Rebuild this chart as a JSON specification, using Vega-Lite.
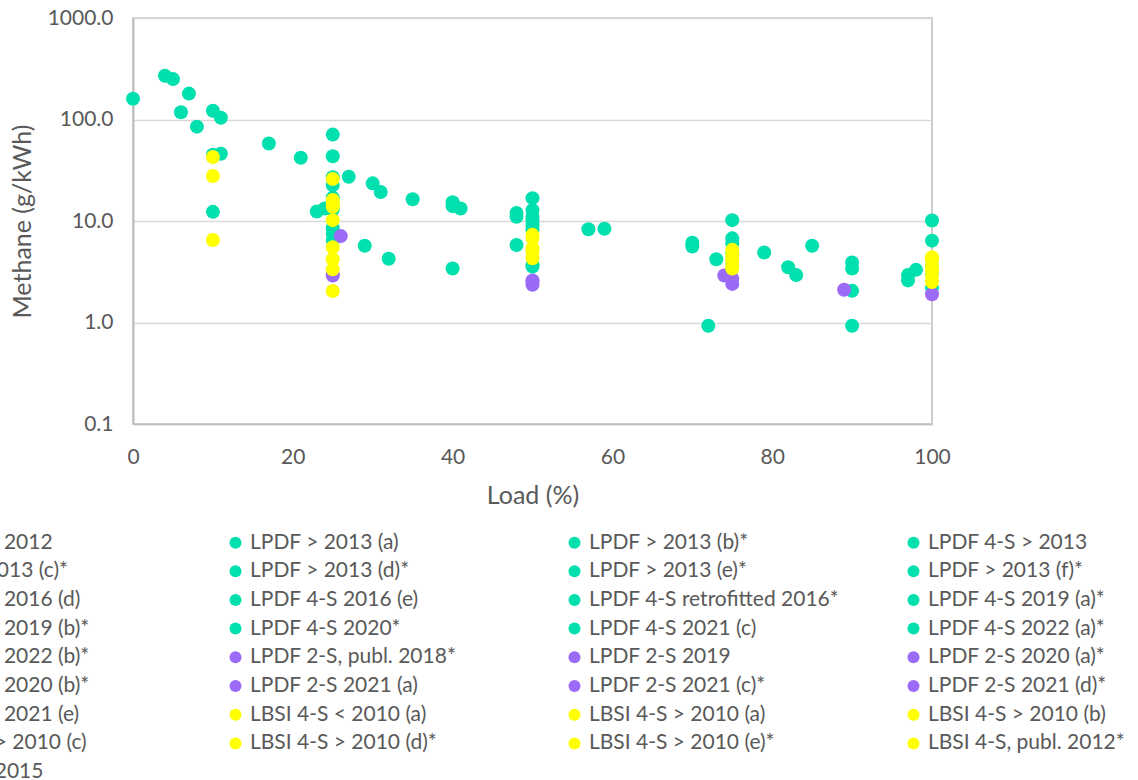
{
 "$schema": "https://vega.github.io/schema/vega-lite/v6.json",
 "width": 799, "height": 406,
 "autosize": {"type": "none"},
 "padding": {"left": 133, "top": 18, "right": 206, "bottom": 356},
 "background": "white",
 "config": {"font": "Lato", "view": {"stroke": "#bfbfbf", "strokeWidth": 1.5}},
 "data": {"values": [
  {"series": "LPDF 4-S 2012", "load": 4, "methane": 270},
  {"series": "LPDF 4-S 2012", "load": 10, "methane": 45},
  {"series": "LPDF 4-S 2012", "load": 25, "methane": 22.6},
  {"series": "LPDF 4-S 2012", "load": 50, "methane": 11},
  {"series": "LPDF 4-S 2012", "load": 75, "methane": 6.0},
  {"series": "LPDF 4-S 2012", "load": 100, "methane": 3.0},
  {"series": "LPDF > 2013 (a)", "load": 5, "methane": 250},
  {"series": "LPDF > 2013 (a)", "load": 11, "methane": 104},
  {"series": "LPDF > 2013 (a)", "load": 25, "methane": 43.4},
  {"series": "LPDF > 2013 (a)", "load": 50, "methane": 12.8},
  {"series": "LPDF > 2013 (a)", "load": 75, "methane": 6.75},
  {"series": "LPDF > 2013 (a)", "load": 100, "methane": 6.4},
  {"series": "LPDF > 2013 (b)*", "load": 0, "methane": 160},
  {"series": "LPDF > 2013 (b)*", "load": 6, "methane": 118},
  {"series": "LPDF > 2013 (b)*", "load": 17, "methane": 58},
  {"series": "LPDF > 2013 (b)*", "load": 25, "methane": 27},
  {"series": "LPDF > 2013 (b)*", "load": 50, "methane": 16.8},
  {"series": "LPDF > 2013 (b)*", "load": 100, "methane": 10.1},
  {"series": "LPDF 4-S > 2013", "load": 7, "methane": 180},
  {"series": "LPDF 4-S > 2013", "load": 10, "methane": 122},
  {"series": "LPDF 4-S > 2013", "load": 21, "methane": 42},
  {"series": "LPDF 4-S > 2013", "load": 31, "methane": 19.3},
  {"series": "LPDF 4-S > 2013", "load": 40, "methane": 15.3},
  {"series": "LPDF 4-S > 2013", "load": 59, "methane": 8.4},
  {"series": "LPDF 4-S > 2013", "load": 85, "methane": 5.7},
  {"series": "LPDF > 2013 (c)*", "load": 8, "methane": 85},
  {"series": "LPDF > 2013 (c)*", "load": 11, "methane": 46},
  {"series": "LPDF > 2013 (c)*", "load": 27, "methane": 27.3},
  {"series": "LPDF > 2013 (c)*", "load": 30, "methane": 23.5},
  {"series": "LPDF > 2013 (c)*", "load": 41, "methane": 13.3},
  {"series": "LPDF > 2013 (c)*", "load": 57, "methane": 8.3},
  {"series": "LPDF > 2013 (d)*", "load": 10, "methane": 12.3},
  {"series": "LPDF > 2013 (d)*", "load": 25, "methane": 8.5},
  {"series": "LPDF > 2013 (d)*", "load": 50, "methane": 8.1},
  {"series": "LPDF > 2013 (d)*", "load": 75, "methane": 10.2},
  {"series": "LPDF > 2013 (e)*", "load": 25, "methane": 71},
  {"series": "LPDF > 2013 (e)*", "load": 50, "methane": 9.1},
  {"series": "LPDF > 2013 (f)*", "load": 25, "methane": 17},
  {"series": "LPDF > 2013 (f)*", "load": 50, "methane": 10.2},
  {"series": "LPDF > 2013 (f)*", "load": 75, "methane": 4.7},
  {"series": "LPDF > 2013 (f)*", "load": 100, "methane": 2.2},
  {"series": "LPDF 4-S 2016 (d)", "load": 23, "methane": 12.4},
  {"series": "LPDF 4-S 2016 (d)", "load": 48, "methane": 12},
  {"series": "LPDF 4-S 2016 (d)", "load": 70, "methane": 6.1},
  {"series": "LPDF 4-S 2016 (d)", "load": 97, "methane": 2.94},
  {"series": "LPDF 4-S 2016 (e)", "load": 24, "methane": 13.3},
  {"series": "LPDF 4-S 2016 (e)", "load": 48, "methane": 11},
  {"series": "LPDF 4-S 2016 (e)", "load": 70, "methane": 5.6},
  {"series": "LPDF 4-S 2016 (e)", "load": 98, "methane": 3.3},
  {"series": "LPDF 4-S retrofitted 2016*", "load": 29, "methane": 5.7},
  {"series": "LPDF 4-S retrofitted 2016*", "load": 48, "methane": 5.8},
  {"series": "LPDF 4-S retrofitted 2016*", "load": 73, "methane": 4.2},
  {"series": "LPDF 4-S retrofitted 2016*", "load": 97, "methane": 2.6},
  {"series": "LPDF 4-S 2019 (a)*", "load": 32, "methane": 4.25},
  {"series": "LPDF 4-S 2019 (a)*", "load": 40, "methane": 3.4},
  {"series": "LPDF 4-S 2019 (a)*", "load": 72, "methane": 0.93},
  {"series": "LPDF 4-S 2019 (a)*", "load": 90, "methane": 0.93},
  {"series": "LPDF 4-S 2019 (b)*", "load": 35, "methane": 16.4},
  {"series": "LPDF 4-S 2019 (b)*", "load": 40, "methane": 14},
  {"series": "LPDF 4-S 2019 (b)*", "load": 79, "methane": 4.9},
  {"series": "LPDF 4-S 2020*", "load": 25, "methane": 14.5},
  {"series": "LPDF 4-S 2020*", "load": 50, "methane": 3.7},
  {"series": "LPDF 4-S 2020*", "load": 82, "methane": 3.5},
  {"series": "LPDF 4-S 2020*", "load": 90, "methane": 3.9},
  {"series": "LPDF 4-S 2021 (c)", "load": 25, "methane": 13},
  {"series": "LPDF 4-S 2021 (c)", "load": 50, "methane": 3.55},
  {"series": "LPDF 4-S 2021 (c)", "load": 83, "methane": 2.94},
  {"series": "LPDF 4-S 2021 (c)", "load": 90, "methane": 3.4},
  {"series": "LPDF 4-S 2022 (a)*", "load": 25, "methane": 7.5},
  {"series": "LPDF 4-S 2022 (a)*", "load": 75, "methane": 3.6},
  {"series": "LPDF 4-S 2022 (a)*", "load": 90, "methane": 2.05},
  {"series": "LPDF 4-S 2022 (b)*", "load": 25, "methane": 6.5},
  {"series": "LPDF 4-S 2022 (b)*", "load": 100, "methane": 3.6},
  {"series": "LPDF 2-S, publ. 2018*", "load": 25, "methane": 2.9},
  {"series": "LPDF 2-S, publ. 2018*", "load": 50, "methane": 2.35},
  {"series": "LPDF 2-S, publ. 2018*", "load": 75, "methane": 2.4},
  {"series": "LPDF 2-S, publ. 2018*", "load": 100, "methane": 1.9},
  {"series": "LPDF 2-S 2019", "load": 26, "methane": 7.1},
  {"series": "LPDF 2-S 2020 (a)*", "load": 50, "methane": 2.6},
  {"series": "LPDF 2-S 2020 (b)*", "load": 74, "methane": 2.9},
  {"series": "LPDF 2-S 2021 (a)", "load": 50, "methane": 2.5},
  {"series": "LPDF 2-S 2021 (c)*", "load": 75, "methane": 2.7},
  {"series": "LPDF 2-S 2021 (d)*", "load": 89, "methane": 2.1},
  {"series": "LPDF 2-S 2021 (e)", "load": 25, "methane": 3.0},
  {"series": "LBSI 4-S < 2010 (a)", "load": 10, "methane": 42.7},
  {"series": "LBSI 4-S < 2010 (a)", "load": 25, "methane": 25.9},
  {"series": "LBSI 4-S < 2010 (a)", "load": 50, "methane": 7.3},
  {"series": "LBSI 4-S < 2010 (a)", "load": 75, "methane": 5.2},
  {"series": "LBSI 4-S < 2010 (a)", "load": 100, "methane": 4.4},
  {"series": "LBSI 4-S > 2010 (a)", "load": 10, "methane": 27.8},
  {"series": "LBSI 4-S > 2010 (a)", "load": 25, "methane": 16.1},
  {"series": "LBSI 4-S > 2010 (a)", "load": 50, "methane": 5.4},
  {"series": "LBSI 4-S > 2010 (a)", "load": 75, "methane": 4.1},
  {"series": "LBSI 4-S > 2010 (a)", "load": 100, "methane": 3.55},
  {"series": "LBSI 4-S > 2010 (b)", "load": 10, "methane": 6.5},
  {"series": "LBSI 4-S > 2010 (b)", "load": 25, "methane": 13.8},
  {"series": "LBSI 4-S > 2010 (b)", "load": 50, "methane": 4.3},
  {"series": "LBSI 4-S > 2010 (b)", "load": 75, "methane": 3.4},
  {"series": "LBSI 4-S > 2010 (b)", "load": 100, "methane": 2.5},
  {"series": "LBSI 4-S > 2010 (c)", "load": 25, "methane": 10.2},
  {"series": "LBSI 4-S > 2010 (c)", "load": 50, "methane": 5.0},
  {"series": "LBSI 4-S > 2010 (c)", "load": 75, "methane": 4.6},
  {"series": "LBSI 4-S > 2010 (c)", "load": 100, "methane": 4.1},
  {"series": "LBSI 4-S > 2010 (d)*", "load": 25, "methane": 5.5},
  {"series": "LBSI 4-S > 2010 (d)*", "load": 50, "methane": 6.8},
  {"series": "LBSI 4-S > 2010 (d)*", "load": 75, "methane": 3.6},
  {"series": "LBSI 4-S > 2010 (d)*", "load": 100, "methane": 3.2},
  {"series": "LBSI 4-S > 2010 (e)*", "load": 25, "methane": 4.2},
  {"series": "LBSI 4-S > 2010 (e)*", "load": 100, "methane": 2.83},
  {"series": "LBSI 4-S, publ. 2012*", "load": 25, "methane": 3.34},
  {"series": "LBSI 4-S 2015", "load": 25, "methane": 2.04},
  {"series": "LBSI 4-S 2015", "load": 25, "methane": 14.8}
 ]},
 "mark": {"type": "point", "filled": true, "size": 196, "opacity": 1, "shape": "circle", "strokeWidth": 0},
 "encoding": {
  "x": {"field": "load", "type": "quantitative",
   "scale": {"domain": [0, 100], "nice": false, "zero": false},
   "axis": {"title": "Load (%)", "values": [0, 20, 40, 60, 80, 100], "grid": false, "ticks": false, "labelFlush": false,
    "labelPadding": 22, "labelFontSize": 21, "labelColor": "#595959", "labelFont": "Lato",
    "titleFontSize": 25, "titleColor": "#595959", "titleFontWeight": "normal", "titleFont": "Lato", "titlePadding": 16,
    "domainColor": "#bfbfbf", "domainWidth": 1.5}},
  "y": {"field": "methane", "type": "quantitative",
   "scale": {"type": "log", "domain": [0.1, 1000], "nice": false},
   "axis": {"title": "Methane (g/kWh)", "values": [0.1, 1, 10, 100, 1000], "format": ".1f", "grid": true, "labelFlush": false,
    "gridColor": "#d9d9d9", "gridWidth": 1.5, "ticks": false,
    "labelPadding": 20, "labelFontSize": 21, "labelColor": "#595959", "labelFont": "Lato",
    "titleFontSize": 25, "titleColor": "#595959", "titleFontWeight": "normal", "titleFont": "Lato", "titlePadding": 12,
    "domainColor": "#bfbfbf", "domainWidth": 2}},
  "color": {"field": "series", "type": "nominal",
   "scale": {
    "domain": ["LPDF 4-S 2012", "LPDF > 2013 (a)", "LPDF > 2013 (b)*", "LPDF 4-S > 2013",
     "LPDF > 2013 (c)*", "LPDF > 2013 (d)*", "LPDF > 2013 (e)*", "LPDF > 2013 (f)*",
     "LPDF 4-S 2016 (d)", "LPDF 4-S 2016 (e)", "LPDF 4-S retrofitted 2016*", "LPDF 4-S 2019 (a)*",
     "LPDF 4-S 2019 (b)*", "LPDF 4-S 2020*", "LPDF 4-S 2021 (c)", "LPDF 4-S 2022 (a)*",
     "LPDF 4-S 2022 (b)*", "LPDF 2-S, publ. 2018*", "LPDF 2-S 2019", "LPDF 2-S 2020 (a)*",
     "LPDF 2-S 2020 (b)*", "LPDF 2-S 2021 (a)", "LPDF 2-S 2021 (c)*", "LPDF 2-S 2021 (d)*",
     "LPDF 2-S 2021 (e)", "LBSI 4-S < 2010 (a)", "LBSI 4-S > 2010 (a)", "LBSI 4-S > 2010 (b)",
     "LBSI 4-S > 2010 (c)", "LBSI 4-S > 2010 (d)*", "LBSI 4-S > 2010 (e)*", "LBSI 4-S, publ. 2012*",
     "LBSI 4-S 2015"],
    "range": ["#00DFAE", "#00DFAE", "#00DFAE", "#00DFAE", "#00DFAE", "#00DFAE", "#00DFAE", "#00DFAE",
     "#00DFAE", "#00DFAE", "#00DFAE", "#00DFAE", "#00DFAE", "#00DFAE", "#00DFAE", "#00DFAE",
     "#00DFAE", "#9B6AF7", "#9B6AF7", "#9B6AF7", "#9B6AF7", "#9B6AF7", "#9B6AF7", "#9B6AF7",
     "#9B6AF7", "#FFFF00", "#FFFF00", "#FFFF00", "#FFFF00", "#FFFF00", "#FFFF00", "#FFFF00",
     "#FFFF00"]},
   "legend": {"title": null, "orient": "none", "legendX": -247, "legendY": 514, "columns": 4, "direction": "horizontal",
    "symbolLimit": 50,
    "columnPadding": 63, "rowPadding": 6.7, "gridAlign": "all", "padding": 0,
    "symbolType": "circle", "symbolSize": 144, "symbolStrokeWidth": 0, "symbolOpacity": 1,
    "labelFontSize": 21, "labelColor": "#595959", "labelFont": "Lato", "labelLimit": 0, "labelOffset": 4}}
 }
}
